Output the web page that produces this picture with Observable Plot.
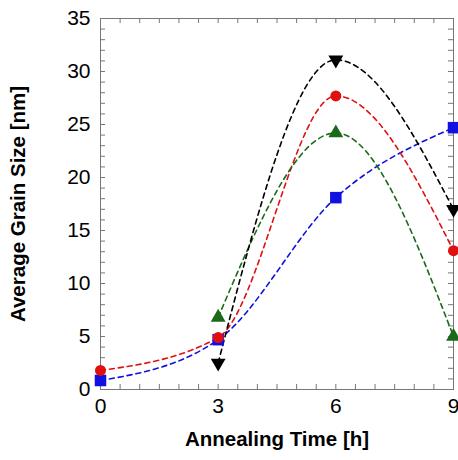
<!DOCTYPE html>
<html><head><meta charset="utf-8">
<script src="https://cdn.jsdelivr.net/npm/d3@7"></script>
<script src="https://cdn.jsdelivr.net/npm/@observablehq/plot@0.6"></script>
<style>body{margin:0;background:#fff;} svg{font-family:"Liberation Sans",Arial,sans-serif;}</style>
</head><body><div id="chart"></div>
<script>
const times = [0, 3, 6, 9];
const blueSq = [0.85, 4.7, 18.1, 24.7];
const redCirc = [1.8, 4.9, 27.7, 13.1];
const greenTri = [null, 6.8, 24.2, 5.0];
const blackTriDown = [null, 2.5, 31.1, 17.0];
const xTicks = [0, 3, 6, 9];
const yTicks = [0, 5, 10, 15, 20, 25, 30, 35];
const xMinor = d3.range(0, 9.01, 0.5);
const yMinor = d3.range(0, 35.01, 1);

const W = 458, H = 460, mL = 100, mR = 5, mT = 18, mB = 71;
const plotW = W - mL - mR, plotH = H - mT - mB, tickLen = 5;

const seriesDefs = [
  {name: "blue", vals: blueSq, color: "#1010e0", symbol: "square", r: 6.5, rotate: 0},
  {name: "red", vals: redCirc, color: "#e01010", symbol: "circle", r: 5.5, rotate: 0},
  {name: "green", vals: greenTri, color: "#1a6a1a", symbol: "triangle", r: 5.5, rotate: 0},
  {name: "black", vals: blackTriDown, color: "#000000", symbol: "triangle", r: 5.5, rotate: 180}
];
const rows = s => times.map((t, i) => ({t, v: s.vals[i]})).filter(d => d.v != null);

const marks = [];
for (const s of seriesDefs) {
  marks.push(Plot.line(rows(s), {x: "t", y: "v", curve: "monotone-x", stroke: s.color, strokeWidth: 1.6, strokeDasharray: "5,4"}));
}
for (const s of seriesDefs) {
  marks.push(Plot.dot(rows(s), {x: "t", y: "v", symbol: s.symbol, r: s.r, fill: s.color, stroke: "none", rotate: s.rotate}));
}
const tk = {stroke: "#777", strokeWidth: 1};

const chart = Plot.plot({
  width: W, height: H,
  marginLeft: mL, marginRight: mR, marginTop: mT, marginBottom: mB,
  x: {domain: [0, 9], label: null},
  y: {domain: [0, 35], label: null},
  marks: [
    Plot.frame({stroke: "#777"}),
    Plot.tickX(xMinor, {x: d => d, insetTop: plotH - tickLen, ...tk}),
    Plot.tickX(xMinor, {x: d => d, insetBottom: plotH - tickLen, ...tk}),
    Plot.tickY(yMinor, {y: d => d, insetRight: plotW - tickLen, ...tk}),
    Plot.tickY(yMinor, {y: d => d, insetLeft: plotW - tickLen, ...tk}),
    Plot.axisX(xTicks, {anchor: "bottom", tickSize: 0, tickPadding: 9, fontSize: 21, label: null}),
    Plot.axisY(yTicks, {anchor: "left", tickSize: 0, tickPadding: 10, fontSize: 21, label: null}),
    Plot.text(["Annealing Time [h]"], {frameAnchor: "bottom", dy: 56, fontSize: 20.5, fontWeight: "bold", fill: "#000"}),
    Plot.text(["Average Grain Size [nm]"], {frameAnchor: "left", textAnchor: "middle", dx: -82, rotate: -90, fontSize: 20.5, fontWeight: "bold", fill: "#000"}),
    ...marks
  ]
});
document.getElementById("chart").appendChild(chart);
</script></body></html>
